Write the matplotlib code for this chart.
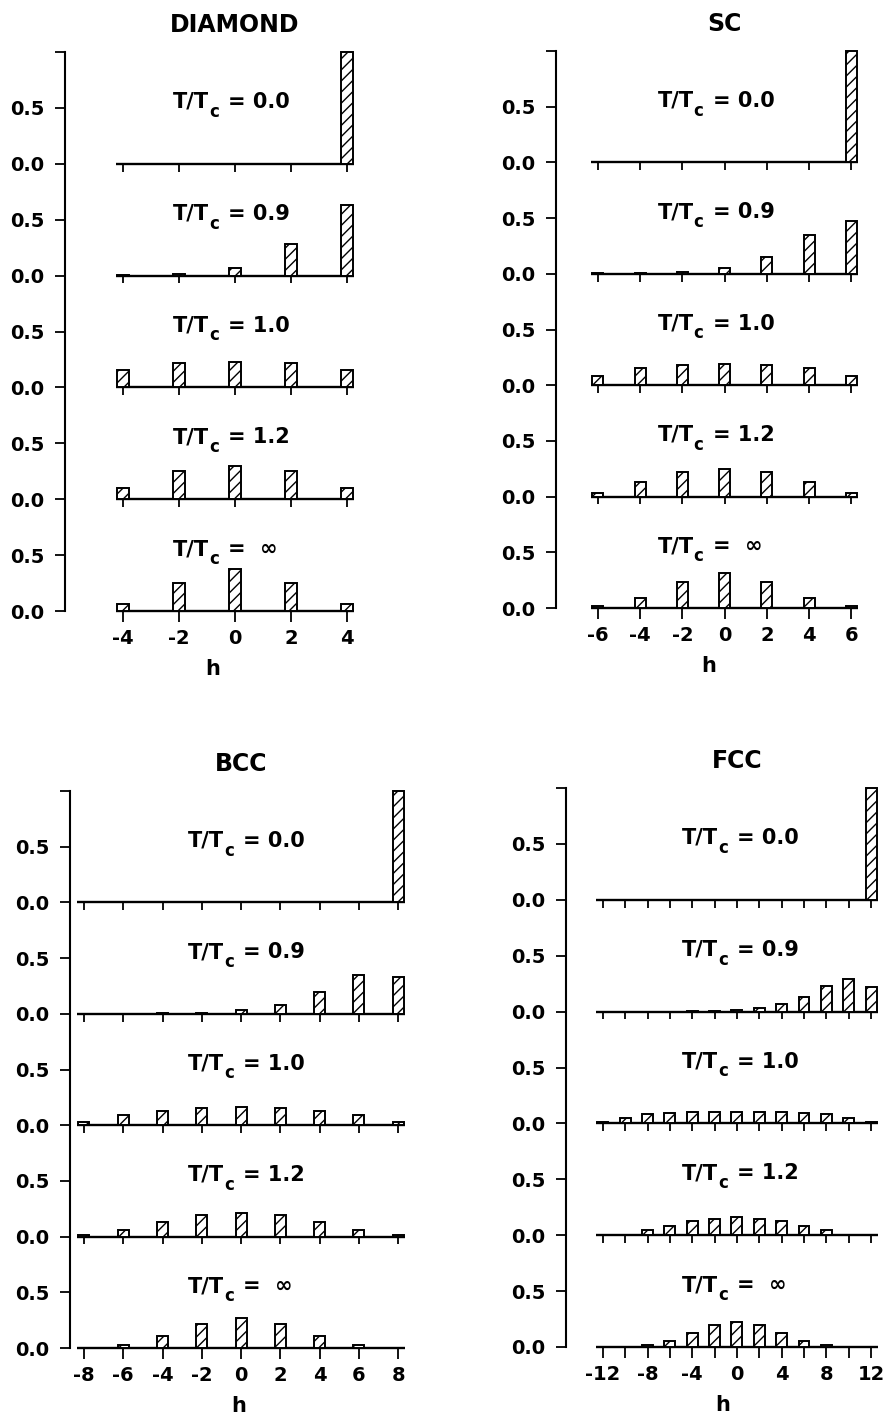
import numpy as np
import matplotlib
matplotlib.use("Agg")
import matplotlib.pyplot as plt
from matplotlib.transforms import offset_copy

plt.rcParams["font.family"] = "DejaVu Sans"
plt.rcParams["font.weight"] = "bold"
plt.rcParams["axes.unicode_minus"] = False
plt.rcParams["hatch.linewidth"] = 1.0

# ---------------- DATA ----------------
TEMPS = ["0.0", "0.9", "1.0", "1.2", "\u221e"]

diamond_h = [-4, -2, 0, 2, 4]
diamond_p = [
    [0, 0, 0, 0, 1.0],
    [0.005, 0.01, 0.07, 0.28, 0.63],
    [0.16, 0.22, 0.23, 0.22, 0.16],
    [0.10, 0.25, 0.30, 0.25, 0.10],
    [0.0625, 0.25, 0.375, 0.25, 0.0625],
]

sc_h = [-6, -4, -2, 0, 2, 4, 6]
sc_p = [
    [0, 0, 0, 0, 0, 0, 1.0],
    [0.003, 0.01, 0.02, 0.05, 0.15, 0.35, 0.47],
    [0.08, 0.15, 0.18, 0.19, 0.18, 0.15, 0.08],
    [0.03, 0.13, 0.22, 0.25, 0.22, 0.13, 0.03],
    [0.016, 0.094, 0.234, 0.312, 0.234, 0.094, 0.016],
]

bcc_h = [-8, -6, -4, -2, 0, 2, 4, 6, 8]
bcc_p = [
    [0, 0, 0, 0, 0, 0, 0, 0, 1.0],
    [0, 0.002, 0.004, 0.01, 0.03, 0.08, 0.20, 0.35, 0.33],
    [0.03, 0.09, 0.13, 0.15, 0.16, 0.15, 0.13, 0.09, 0.03],
    [0.01, 0.055, 0.135, 0.19, 0.21, 0.19, 0.135, 0.055, 0.01],
    [0.004, 0.031, 0.109, 0.219, 0.273, 0.219, 0.109, 0.031, 0.004],
]

fcc_h = [-12, -10, -8, -6, -4, -2, 0, 2, 4, 6, 8, 10, 12]
fcc_p = [
    [0, 0, 0, 0, 0, 0, 0, 0, 0, 0, 0, 0, 1.0],
    [0, 0, 0, 0, 0.001, 0.003, 0.012, 0.03, 0.07, 0.13, 0.23, 0.29, 0.22],
    [0.01, 0.045, 0.085, 0.095, 0.1, 0.1, 0.1, 0.1, 0.1, 0.095, 0.085, 0.045, 0.01],
    [0.001, 0.006, 0.045, 0.085, 0.125, 0.145, 0.16, 0.145, 0.125, 0.085, 0.045, 0.006, 0.001],
    [0.0002, 0.003, 0.016, 0.054, 0.121, 0.193, 0.226, 0.193, 0.121, 0.054, 0.016, 0.003, 0.0002],
]

# ---------------- LAYOUT (pixels) ----------------
W, H = 892, 1417
panels = [
    # name, h, p, left, right, top, bottom, xlim, bar width, label step, label shift (px)
    ("DIAMOND", diamond_h, diamond_p, 65, 361, 52, 611, (-6.07, 4.5), 0.40, 2, -3),
    ("SC", sc_h, sc_p, 556, 862, 51, 608, (-7.98, 6.5), 0.52, 2, -8),
    ("BCC", bcc_h, bcc_p, 70, 408, 791, 1348, (-8.71, 8.5), 0.56, 2, 6),
    ("FCC", fcc_h, fcc_p, 566, 880, 788, 1347, (-15.3, 12.8), 0.98, 4, 4),
]

fig = plt.figure(figsize=(W / 100, H / 100), dpi=100)


def row_label(ax, y, temp, shift):
    # "T/T" + lowered "c" + "= value", pieced together around x = 0
    fs = 15
    t1 = offset_copy(ax.transData, fig=fig, x=shift - 23, y=0, units="dots")
    t2 = offset_copy(ax.transData, fig=fig, x=shift - 23, y=-9, units="dots")
    t3 = offset_copy(ax.transData, fig=fig, x=shift - 4, y=0, units="dots")
    ax.text(0, y, "T/T", transform=t1, ha="right", va="baseline", fontsize=fs, fontweight="bold")
    ax.text(0, y, "c", transform=t2, ha="left", va="baseline", fontsize=12, fontweight="bold")
    val = "=  " + temp if temp == "\u221e" else "= " + temp
    ax.text(0, y, val, transform=t3, ha="left", va="baseline", fontsize=fs, fontweight="bold")


for name, h, p, left, right, top, bottom, xlim, bw, step, shift in panels:
    ax = fig.add_axes([left / W, 1 - bottom / H, (right - left) / W, (bottom - top) / H])
    h = np.array(h)
    nrows = len(p)
    pad = 0.6 * bw

    for i, (temp, vals) in enumerate(zip(TEMPS, p)):
        off = nrows - 1 - i
        ax.hlines(off, h.min() - pad, h.max() + pad, color="black", lw=1.7, zorder=2,
                  clip_on=False)
        bars = ax.bar(h, vals, width=bw, bottom=off, facecolor="white", edgecolor="black",
                      linewidth=1.4, hatch="///", zorder=3)
        for b in bars:
            b.set_clip_on(False)
        if off > 0:
            ax.vlines(h, off - 0.07, off, color="black", lw=1.3, zorder=2)
        row_label(ax, off + 0.5, temp, shift)

    ax.text(0, nrows + 0.24, name, ha="center", va="center", fontsize=17,
            fontweight="bold", clip_on=False)

    ax.set_xlim(*xlim)
    ax.set_ylim(0, nrows)

    ax.set_xticks(h)
    ax.set_xticklabels([str(v) if v % step == 0 else "" for v in h],
                       fontsize=14, fontweight="bold")
    ax.set_yticks(np.arange(0, nrows + 0.01, 0.5))
    ax.set_yticklabels(["0.0", "0.5"] * nrows + [""], fontsize=14, fontweight="bold")
    ax.tick_params(axis="x", length=8, width=1.3, direction="out", pad=5)
    ax.tick_params(axis="y", length=7, width=1.3, direction="out", pad=8)
    ax.set_xlabel("h", fontsize=15, fontweight="bold", labelpad=8)

    for s in ["top", "right", "bottom"]:
        ax.spines[s].set_visible(False)
    ax.spines["left"].set_linewidth(1.5)
    ax.patch.set_alpha(0)

fig.savefig("out.png", dpi=100)
